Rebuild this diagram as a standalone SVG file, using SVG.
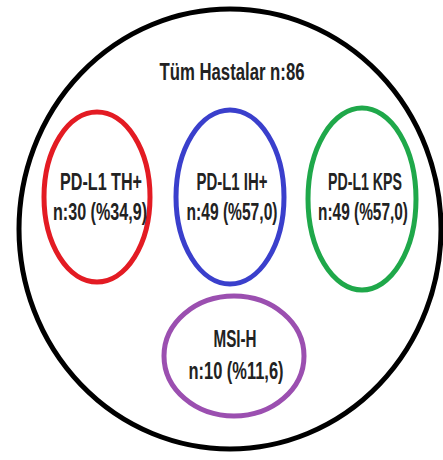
<svg xmlns="http://www.w3.org/2000/svg" width="443" height="460" viewBox="0 0 443 460">
<style>
.t{font-family:"Liberation Sans",Arial,sans-serif;font-size:24px;font-weight:bold;fill:#222;text-anchor:middle}
.e{fill:none;stroke-width:5}
</style>
<rect width="443" height="460" fill="#fff"/>
<g id="all">
<ellipse class="e" cx="230" cy="229" rx="211" ry="220" stroke="#000" stroke-width="6"/>
<text class="t" x="232" y="80" font-size="25" textLength="145" lengthAdjust="spacingAndGlyphs">Tüm Hastalar n:86</text>
</g>
<g id="th">
<ellipse class="e" cx="97" cy="197" rx="53" ry="85" stroke="#e31b23"/>
<text class="t" x="101" y="190" textLength="82" lengthAdjust="spacingAndGlyphs">PD-L1 TH+</text>
<text class="t" x="100" y="220" textLength="94" lengthAdjust="spacingAndGlyphs">n:30 (%34,9)</text>
</g>
<g id="ih">
<ellipse class="e" cx="230" cy="197" rx="54" ry="87" stroke="#3a3fcc"/>
<text class="t" x="232" y="190" textLength="71" lengthAdjust="spacingAndGlyphs">PD-L1 IH+</text>
<text class="t" x="232" y="220" textLength="91" lengthAdjust="spacingAndGlyphs">n:49 (%57,0)</text>
</g>
<g id="kps">
<ellipse class="e" cx="362" cy="199" rx="54" ry="91" stroke="#1fa84a"/>
<text class="t" x="365" y="190" textLength="74" lengthAdjust="spacingAndGlyphs">PD-L1 KPS</text>
<text class="t" x="363" y="220" textLength="90" lengthAdjust="spacingAndGlyphs">n:49 (%57,0)</text>
</g>
<g id="msi">
<ellipse class="e" cx="234" cy="356" rx="70" ry="60" stroke="#9b4fb0"/>
<text class="t" x="235" y="347" textLength="43" lengthAdjust="spacingAndGlyphs">MSI-H</text>
<text class="t" x="236" y="379" textLength="95" lengthAdjust="spacingAndGlyphs">n:10 (%11,6)</text>
</g>
<g id="connectors"/>
</svg>
